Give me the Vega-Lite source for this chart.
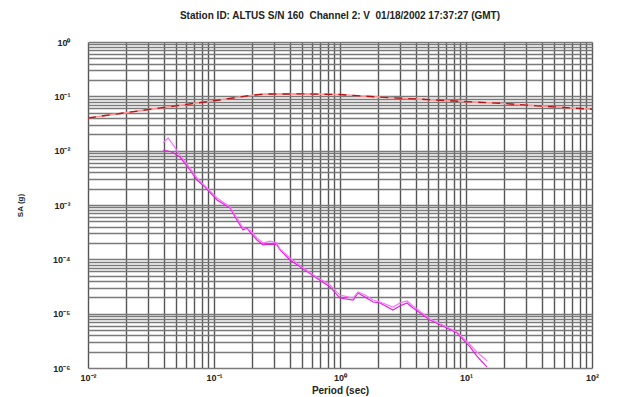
{
  "$schema": "https://vega.github.io/schema/vega-lite/v6.json",
  "width": 504,
  "height": 326,
  "autosize": "none",
  "padding": {"left": 88, "top": 42, "right": 32, "bottom": 29},
  "background": "white",
  "title": {
    "text": "Station ID: ALTUS S/N 160\u00a0\u00a0Channel 2: V\u00a0\u00a001/18/2002 17:37:27 (GMT)",
    "font": "Liberation Sans",
    "fontSize": 10,
    "fontWeight": "bold",
    "color": "#222",
    "anchor": "middle",
    "offset": 17
  },
  "config": {
    "view": {"stroke": null},
    "axis": {
      "labelFont": "Liberation Sans",
      "labelFontSize": 9,
      "labelFontWeight": "bold",
      "labelColor": "#222",
      "titleFont": "Liberation Sans",
      "titleFontWeight": "bold",
      "titleColor": "#222",
      "ticks": false,
      "domain": false,
      "labelOverlap": false,
      "labelBound": false,
      "labelFlush": false
    }
  },
  "datasets": {
    "spec": [
      {"s": "R1", "p": 0.01, "sa": 0.040},
      {"s": "R1", "p": 0.03, "sa": 0.057},
      {"s": "R1", "p": 0.1, "sa": 0.083},
      {"s": "R1", "p": 0.2, "sa": 0.105},
      {"s": "R1", "p": 0.25, "sa": 0.110},
      {"s": "R1", "p": 0.5, "sa": 0.111},
      {"s": "R1", "p": 1.0, "sa": 0.108},
      {"s": "R1", "p": 2.0, "sa": 0.097},
      {"s": "R1", "p": 5.0, "sa": 0.087},
      {"s": "R1", "p": 10.0, "sa": 0.080},
      {"s": "R1", "p": 20.0, "sa": 0.074},
      {"s": "R1", "p": 30.0, "sa": 0.069},
      {"s": "R1", "p": 50.0, "sa": 0.064},
      {"s": "R1", "p": 100.0, "sa": 0.058},
      {"s": "R2", "p": 0.01, "sa": 0.040},
      {"s": "R2", "p": 0.03, "sa": 0.057},
      {"s": "R2", "p": 0.1, "sa": 0.083},
      {"s": "R2", "p": 0.2, "sa": 0.105},
      {"s": "R2", "p": 0.25, "sa": 0.110},
      {"s": "R2", "p": 0.5, "sa": 0.111},
      {"s": "R2", "p": 1.0, "sa": 0.108},
      {"s": "R2", "p": 2.0, "sa": 0.097},
      {"s": "R2", "p": 5.0, "sa": 0.087},
      {"s": "R2", "p": 10.0, "sa": 0.080},
      {"s": "R2", "p": 20.0, "sa": 0.074},
      {"s": "R2", "p": 30.0, "sa": 0.069},
      {"s": "R2", "p": 50.0, "sa": 0.064},
      {"s": "R2", "p": 100.0, "sa": 0.058}
    ],
    "rec": [
      {"s": "M1", "p": 0.0394, "sa": 0.0103},
      {"s": "M1", "p": 0.0464, "sa": 0.00945},
      {"s": "M1", "p": 0.0537, "sa": 0.00764},
      {"s": "M1", "p": 0.0645, "sa": 0.00441},
      {"s": "M1", "p": 0.0733, "sa": 0.00288},
      {"s": "M1", "p": 0.0848, "sa": 0.00214},
      {"s": "M1", "p": 0.1057, "sa": 0.00124},
      {"s": "M1", "p": 0.134, "sa": 0.000881},
      {"s": "M1", "p": 0.152, "sa": 0.00053},
      {"s": "M1", "p": 0.170, "sa": 0.000347},
      {"s": "M1", "p": 0.183, "sa": 0.000377},
      {"s": "M1", "p": 0.193, "sa": 0.000318},
      {"s": "M1", "p": 0.219, "sa": 0.000227},
      {"s": "M1", "p": 0.245, "sa": 0.000184},
      {"s": "M1", "p": 0.278, "sa": 0.000191},
      {"s": "M1", "p": 0.316, "sa": 0.000184},
      {"s": "M1", "p": 0.334, "sa": 0.000149},
      {"s": "M1", "p": 0.401, "sa": 0.0000971},
      {"s": "M1", "p": 0.499, "sa": 0.0000692},
      {"s": "M1", "p": 0.634, "sa": 0.0000473},
      {"s": "M1", "p": 0.834, "sa": 0.0000310},
      {"s": "M1", "p": 1.0, "sa": 0.0000194},
      {"s": "M1", "p": 1.27, "sa": 0.0000178},
      {"s": "M1", "p": 1.39, "sa": 0.0000240},
      {"s": "M1", "p": 1.58, "sa": 0.0000202},
      {"s": "M1", "p": 1.83, "sa": 0.0000164},
      {"s": "M1", "p": 2.08, "sa": 0.0000157},
      {"s": "M1", "p": 2.63, "sa": 0.0000117},
      {"s": "M1", "p": 2.99, "sa": 0.0000138},
      {"s": "M1", "p": 3.40, "sa": 0.0000157},
      {"s": "M1", "p": 3.80, "sa": 0.0000127},
      {"s": "M1", "p": 5.18, "sa": 0.00000764},
      {"s": "M1", "p": 7.06, "sa": 0.00000545},
      {"s": "M1", "p": 8.49, "sa": 0.00000441},
      {"s": "M1", "p": 10.8, "sa": 0.00000243},
      {"s": "M1", "p": 12.2, "sa": 0.00000166},
      {"s": "M1", "p": 14.7, "sa": 0.00000104},
      {"s": "M2", "p": 0.0394, "sa": 0.0138},
      {"s": "M2", "p": 0.0432, "sa": 0.0171},
      {"s": "M2", "p": 0.0464, "sa": 0.0138},
      {"s": "M2", "p": 0.0537, "sa": 0.00832},
      {"s": "M2", "p": 0.0645, "sa": 0.0048},
      {"s": "M2", "p": 0.0733, "sa": 0.00314},
      {"s": "M2", "p": 0.0848, "sa": 0.00224},
      {"s": "M2", "p": 0.1057, "sa": 0.00135},
      {"s": "M2", "p": 0.134, "sa": 0.000919},
      {"s": "M2", "p": 0.152, "sa": 0.000577},
      {"s": "M2", "p": 0.170, "sa": 0.000377},
      {"s": "M2", "p": 0.193, "sa": 0.000347},
      {"s": "M2", "p": 0.219, "sa": 0.000247},
      {"s": "M2", "p": 0.245, "sa": 0.0002},
      {"s": "M2", "p": 0.278, "sa": 0.000217},
      {"s": "M2", "p": 0.316, "sa": 0.0002},
      {"s": "M2", "p": 0.334, "sa": 0.000155},
      {"s": "M2", "p": 0.401, "sa": 0.000106},
      {"s": "M2", "p": 0.499, "sa": 0.0000722},
      {"s": "M2", "p": 0.634, "sa": 0.0000493},
      {"s": "M2", "p": 0.834, "sa": 0.0000337},
      {"s": "M2", "p": 1.0, "sa": 0.0000220},
      {"s": "M2", "p": 1.27, "sa": 0.0000194},
      {"s": "M2", "p": 1.39, "sa": 0.0000251},
      {"s": "M2", "p": 1.58, "sa": 0.0000220},
      {"s": "M2", "p": 1.83, "sa": 0.0000178},
      {"s": "M2", "p": 2.08, "sa": 0.0000164},
      {"s": "M2", "p": 2.63, "sa": 0.0000132},
      {"s": "M2", "p": 2.99, "sa": 0.0000157},
      {"s": "M2", "p": 3.40, "sa": 0.0000171},
      {"s": "M2", "p": 3.80, "sa": 0.0000138},
      {"s": "M2", "p": 5.18, "sa": 0.00000798},
      {"s": "M2", "p": 7.06, "sa": 0.00000568},
      {"s": "M2", "p": 8.49, "sa": 0.00000459},
      {"s": "M2", "p": 10.8, "sa": 0.00000265},
      {"s": "M2", "p": 12.2, "sa": 0.00000197},
      {"s": "M2", "p": 14.7, "sa": 0.00000135}
    ]
  },
  "encoding": {
    "x": {
      "field": "p",
      "type": "quantitative",
      "scale": {"type": "log", "domain": [0.01, 100], "nice": false},
      "axis": {
        "title": "Period (sec)",
        "titleFontSize": 10,
        "titleY": 22,
        "titleBaseline": "middle",
        "labelPadding": 5,
        "values": [0.01,0.02,0.03,0.04,0.05,0.06,0.07,0.08,0.09,0.1,0.2,0.3,0.4,0.5,0.6,0.7,0.8,0.9,1,2,3,4,5,6,7,8,9,10,20,30,40,50,60,70,80,90,100],
        "labelExpr": "abs(log(datum.value)/LN10 - round(log(datum.value)/LN10)) < 0.001 ? '10' + (round(log(datum.value)/LN10) < 0 ? '\u207b' : '') + ['\u2070','\u00b9','\u00b2','\u00b3','\u2074','\u2075','\u2076'][abs(round(log(datum.value)/LN10))] : ''",
        "grid": true,
        "gridColor": "#555555",
        "gridWidth": 1.4,
        "gridOpacity": 1
      }
    },
    "y": {
      "field": "sa",
      "type": "quantitative",
      "scale": {"type": "log", "domain": [0.000001, 1], "nice": false},
      "axis": {
        "title": "SA (g)",
        "titleFontSize": 8,
        "titleX": -68,
        "titleY": 163,
        "titleAlign": "center",
        "titleBaseline": "middle",
        "titleAngle": 270,
        "labelPadding": 18,
        "values": [0.000001,0.000002,0.000003,0.000004,0.000005,0.000006,0.000007,0.000008,0.000009,0.00001,0.00002,0.00003,0.00004,0.00005,0.00006,0.00007,0.00008,0.00009,0.0001,0.0002,0.0003,0.0004,0.0005,0.0006,0.0007,0.0008,0.0009,0.001,0.002,0.003,0.004,0.005,0.006,0.007,0.008,0.009,0.01,0.02,0.03,0.04,0.05,0.06,0.07,0.08,0.09,0.1,0.2,0.3,0.4,0.5,0.6,0.7,0.8,0.9,1],
        "labelExpr": "abs(log(datum.value)/LN10 - round(log(datum.value)/LN10)) < 0.001 ? '10' + (round(log(datum.value)/LN10) < 0 ? '\u207b' : '') + ['\u2070','\u00b9','\u00b2','\u00b3','\u2074','\u2075','\u2076'][abs(round(log(datum.value)/LN10))] : ''",
        "grid": true,
        "gridColor": "#7a7a7a",
        "gridWidth": 1.4,
        "gridOpacity": 1
      }
    }
  },
  "layer": [
    {
      "data": {"name": "spec"},
      "transform": [{"filter": "datum.s === 'R2'"}],
      "mark": {"type": "line", "color": "#ff9a9a", "strokeWidth": 1.6, "clip": true},
      "encoding": {}
    },
    {
      "data": {"name": "spec"},
      "transform": [{"filter": "datum.s === 'R1'"}],
      "mark": {"type": "line", "color": "#b01818", "strokeWidth": 1.4, "strokeDash": [8, 6], "clip": true},
      "encoding": {}
    },
    {
      "data": {"name": "rec"},
      "mark": {"type": "line", "strokeWidth": 1.2, "clip": true},
      "encoding": {
        "color": {
          "field": "s",
          "type": "nominal",
          "scale": {"domain": ["M1", "M2"], "range": ["#e020e0", "#ff70ff"]},
          "legend": null
        }
      }
    }
  ]
}
